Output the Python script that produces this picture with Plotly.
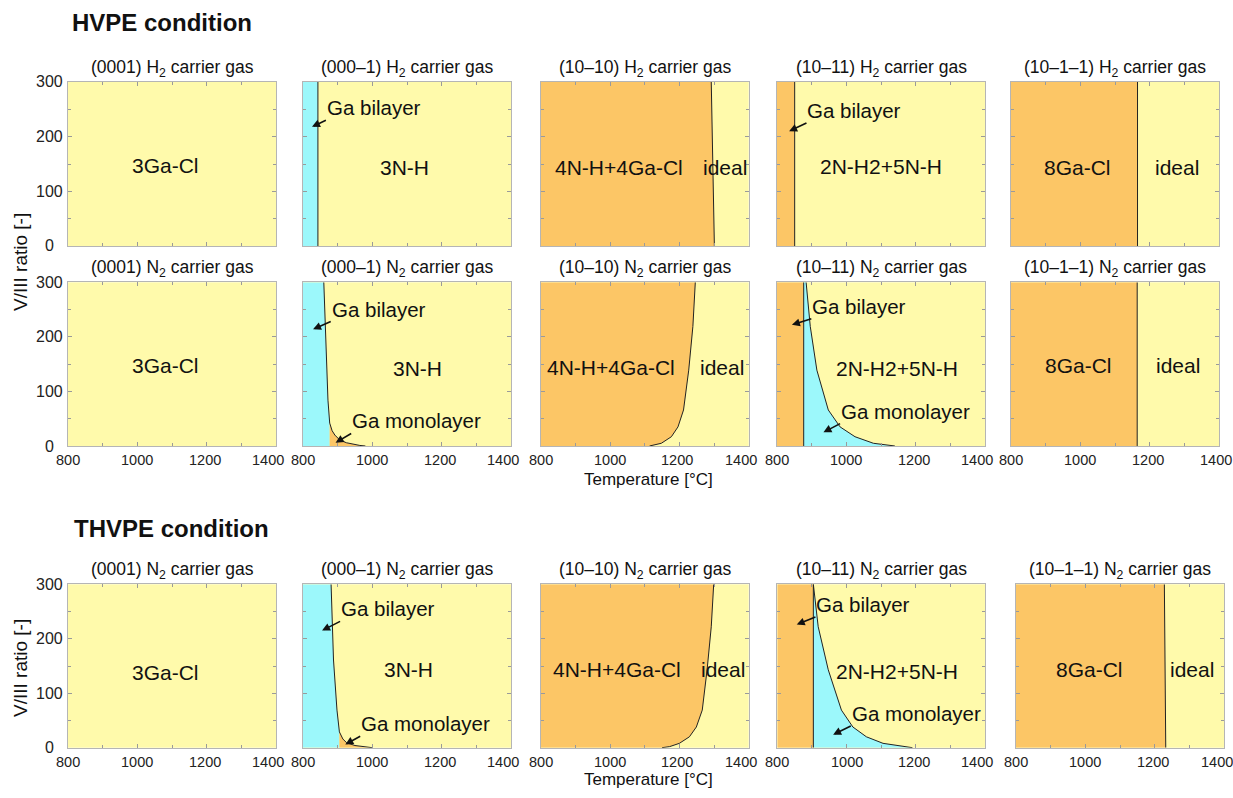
import plotly.graph_objects as go

W, H = 1233, 798

# ---------------- data ----------------
T_RANGE = [800, 1400]
V_RANGE = [0, 300]
x_tickvals = [800, 1000, 1200, 1400]
y_tickvals = [0, 100, 200, 300]

facets = ["(0001)", "(000–1)", "(10–10)", "(10–11)", "(10–1–1)"]
row_carriers = ["H", "N", "N"]
section_titles = ["HVPE condition", "THVPE condition"]

# Row 1 : HVPE, H2 carrier gas  (boundary curves, listed top (V=300) -> bottom (V=0))
r1_p2_T = [843, 843];   r1_p2_V = [300, 0]       # Ga bilayer | 3N-H
r1_p3_T = [1292, 1301]; r1_p3_V = [300, 0]       # 4N-H+4Ga-Cl | ideal
r1_p4_T = [851, 851];   r1_p4_V = [300, 0]       # Ga bilayer (orange) | 2N-H2+5N-H
r1_p5_T = [1165, 1165]; r1_p5_V = [300, 0]       # 8Ga-Cl | ideal

# Row 2 : HVPE, N2 carrier gas
r2_p2_T = [860, 864, 868, 872, 877, 884, 892, 906, 925, 945, 964, 980]
r2_p2_V = [300, 220, 158, 84, 42, 28, 20, 11, 6, 3, 1, 0]
r2_p2_mono_T = 877
r2_p3_T = [1246, 1239, 1227, 1212, 1196, 1177, 1148, 1130, 1114]
r2_p3_V = [300, 219, 139, 66, 35, 17, 5, 2, 0]
r2_p4_T = [884, 896, 915, 948, 982, 1025, 1078, 1110, 1140]
r2_p4_V = [300, 219, 139, 66, 35, 17, 5, 2, 0]
r2_p4_bilayer_T = 877
r2_p5_T = [1164, 1164]; r2_p5_V = [300, 0]

# Row 3 : THVPE, N2 carrier gas
r3_p2_T = [881, 884, 888, 898, 905, 915, 926, 950, 975, 1000]
r3_p2_V = [300, 222, 161, 69, 29, 16, 9, 4, 1.5, 0]
r3_p2_mono_T = 905
r3_p3_T = [1299, 1292, 1280, 1266, 1249, 1229, 1200, 1172, 1150]
r3_p3_V = [300, 222, 143, 69, 38, 20, 8, 2, 0]
r3_p4_T = [904, 918, 947, 985, 1018, 1057, 1105, 1162, 1190]
r3_p4_V = [300, 222, 143, 69, 38, 20, 8, 2, 0]
r3_p4_bilayer_T = 904
r3_p5_T = [1228, 1232]; r3_p5_V = [300, 0]

# ---------------- styles / layout ----------------
YELLOW = "#FFFAAB"
ORANGE = "#FCC666"
CYAN = "#9CF8FB"
LINE = "#222222"
TXT = "#111111"
FONT = "Arial, Liberation Sans, sans-serif"

row_px = [(82, 246), (282.3, 446), (584.3, 747.7)]
col_left_px = [[68, 303, 540.7, 777, 1011],
               [68, 303, 540.7, 777, 1011],
               [68, 303, 540.7, 777.3, 1016]]
PW = 208

panels = [
    # row 1
    dict(kind="plain"),
    dict(kind="left", color=CYAN, T=r1_p2_T, V=r1_p2_V),
    dict(kind="left", color=ORANGE, T=r1_p3_T, V=r1_p3_V),
    dict(kind="left", color=ORANGE, T=r1_p4_T, V=r1_p4_V),
    dict(kind="left", color=ORANGE, T=r1_p5_T, V=r1_p5_V),
    # row 2
    dict(kind="plain"),
    dict(kind="mono", T=r2_p2_T, V=r2_p2_V, Tm=r2_p2_mono_T),
    dict(kind="left", color=ORANGE, T=r2_p3_T, V=r2_p3_V),
    dict(kind="oc", T=r2_p4_T, V=r2_p4_V, Tv=r2_p4_bilayer_T),
    dict(kind="left", color=ORANGE, T=r2_p5_T, V=r2_p5_V),
    # row 3
    dict(kind="plain"),
    dict(kind="mono", T=r3_p2_T, V=r3_p2_V, Tm=r3_p2_mono_T),
    dict(kind="left", color=ORANGE, T=r3_p3_T, V=r3_p3_V),
    dict(kind="oc", T=r3_p4_T, V=r3_p4_V, Tv=r3_p4_bilayer_T),
    dict(kind="left", color=ORANGE, T=r3_p5_T, V=r3_p5_V),
]

# region labels (text, T, V)
labels = [
    [("3Ga-Cl", 1081, 148)],
    [("3N-H", 1092, 144)],
    [("4N-H+4Ga-Cl", 1027, 143), ("ideal", 1333, 143)],
    [("2N-H2+5N-H", 1099, 145)],
    [("8Ga-Cl", 991, 143), ("ideal", 1280, 143)],
    [("3Ga-Cl", 1081, 148)],
    [("3N-H", 1131, 142)],
    [("4N-H+4Ga-Cl", 1002, 143), ("ideal", 1324, 143)],
    [("2N-H2+5N-H", 1146, 142)],
    [("8Ga-Cl", 994, 148), ("ideal", 1281, 148)],
    [("3Ga-Cl", 1081, 138)],
    [("3N-H", 1105, 143)],
    [("4N-H+4Ga-Cl", 1021, 143), ("ideal", 1327, 143)],
    [("2N-H2+5N-H", 1144, 140)],
    [("8Ga-Cl", 1013, 143), ("ideal", 1308, 143)],
]
# callouts: text, arrow head (T, V), arrow tail = lower-left corner of the text (T, V)
callouts = {
    1: [("Ga bilayer", (826, 218), (866, 230))],
    3: [("Ga bilayer", (835, 210), (885, 225))],
    6: [("Ga bilayer", (829, 214), (880, 228)),
        ("Ga monolayer", (894, 6), (939, 23))],
    8: [("Ga bilayer", (843, 222), (899, 233)),
        ("Ga monolayer", (934, 25), (982, 41))],
    11: [("Ga bilayer", (855, 215), (907, 232)),
         ("Ga monolayer", (922, 6), (965, 21))],
    13: [("Ga bilayer", (856, 226), (910, 240)),
         ("Ga monolayer", (961, 24), (1012, 40))],
}
# small horizontal nudges (px) of the x tick labels, as in the reference
xlabel_shift = {800: 0, 1000: 0, 1200: -2, 1400: -8}
last_col_1400_shift = {1: -3, 2: -7}

fig = go.Figure()
annotations = []


def poly(xs, ys, color, xa, ya):
    fig.add_trace(go.Scatter(x=xs, y=ys, fill="toself", fillcolor=color, mode="lines",
                             line=dict(width=0, color=color), xaxis=xa, yaxis=ya,
                             hoverinfo="skip", showlegend=False))


def line(xs, ys, xa, ya):
    fig.add_trace(go.Scatter(x=xs, y=ys, mode="lines", line=dict(width=1, color=LINE),
                             xaxis=xa, yaxis=ya, hoverinfo="skip", showlegend=False))


for k, p in enumerate(panels):
    r, c = divmod(k, 5)
    n = k + 1
    xa = "x" if n == 1 else f"x{n}"
    ya = "y" if n == 1 else f"y{n}"
    xkey = "xaxis" if n == 1 else f"xaxis{n}"
    ykey = "yaxis" if n == 1 else f"yaxis{n}"
    x0 = col_left_px[r][c]
    top, bot = row_px[r]

    fig.update_layout({
        xkey: dict(domain=[x0 / W, (x0 + PW) / W], anchor=ya, range=T_RANGE,
                   tickvals=x_tickvals, showticklabels=False, automargin=False,
                   ticks="inside", ticklen=4, tickcolor="#9a9a9a",
                   minor=dict(dtick=100, tick0=800, ticks="inside", ticklen=3, tickcolor="#9a9a9a"),
                   showline=True, linecolor="#b5b5b5", linewidth=1, mirror="ticks",
                   showgrid=False, zeroline=False, fixedrange=True),
        ykey: dict(domain=[1 - bot / H, 1 - top / H], anchor=xa, range=V_RANGE,
                   tickvals=y_tickvals, showticklabels=False, automargin=False,
                   ticks="inside", ticklen=4, tickcolor="#9a9a9a",
                   minor=dict(dtick=50, tick0=0, ticks="inside", ticklen=3, tickcolor="#9a9a9a"),
                   showline=True, linecolor="#b5b5b5", linewidth=1, mirror="ticks",
                   showgrid=False, zeroline=False, fixedrange=True),
    })

    kind = p["kind"]
    if kind == "left":
        T, V = p["T"], p["V"]
        poly([T_RANGE[0]] + T + [T_RANGE[0]], [V_RANGE[1]] + V + [V_RANGE[0]], p["color"], xa, ya)
        line(T, V, xa, ya)
    elif kind == "mono":
        T, V, Tm = p["T"], p["V"], p["Tm"]
        cT = [t for t in T if t <= Tm]
        cV = [v for t, v in zip(T, V) if t <= Tm]
        poly([T_RANGE[0]] + cT + [Tm, T_RANGE[0]], [V_RANGE[1]] + cV + [0, 0], CYAN, xa, ya)
        oT = [t for t in T if t >= Tm]
        oV = [v for t, v in zip(T, V) if t >= Tm]
        poly(oT + [Tm], oV + [0], ORANGE, xa, ya)
        line(T, V, xa, ya)
    elif kind == "oc":
        T, V, Tv = p["T"], p["V"], p["Tv"]
        poly([T_RANGE[0], Tv, Tv, T_RANGE[0]], [300, 300, 0, 0], ORANGE, xa, ya)
        poly([Tv] + T + [Tv], [300] + V + [0], CYAN, xa, ya)
        line([Tv, Tv], [0, 300], xa, ya)
        line(T, V, xa, ya)

    # x tick labels (rows 2 and 3)
    if r > 0:
        for tv in x_tickvals:
            sh = xlabel_shift[tv] if (c < 4 or tv != 1400) else last_col_1400_shift[r]
            annotations.append(dict(text=str(tv), x=tv, xref=xa, yref="paper",
                                    y=1 - (bot + 14) / H, xanchor="center", yanchor="middle",
                                    xshift=sh, showarrow=False,
                                    font=dict(size=14.5, color="#222", family=FONT)))
    # y tick labels (first column, centred like the reference)
    if c == 0:
        for tv in y_tickvals:
            annotations.append(dict(text=str(tv), y=tv, yref=ya, xref="paper",
                                    x=(x0 - 19) / W, xanchor="center", yanchor="middle",
                                    showarrow=False,
                                    font=dict(size=16, color="#222", family=FONT)))

    # panel title
    annotations.append(dict(
        text=f"{facets[c]} {row_carriers[r]}<sub>2</sub> carrier gas",
        xref="paper", yref="paper", x=(x0 + PW / 2) / W, y=1 - (top - 14) / H,
        xanchor="center", yanchor="middle", showarrow=False,
        font=dict(size=17.5, color=TXT, family=FONT)))

    for (txt, tx, ty) in labels[k]:
        annotations.append(dict(text=txt, x=tx, y=ty, xref=xa, yref=ya, showarrow=False,
                                xanchor="center", yanchor="middle",
                                font=dict(size=21, color=TXT, family=FONT)))
    for (txt, (hx, hy), (qx, qy)) in callouts.get(k, []):
        annotations.append(dict(text=txt, x=hx, y=hy, xref=xa, yref=ya, showarrow=True,
                                ax=qx, ay=qy, axref=xa, ayref=ya,
                                xanchor="left", yanchor="bottom", borderpad=0,
                                arrowhead=2, arrowsize=1, arrowwidth=1.6,
                                arrowcolor=TXT, standoff=0,
                                font=dict(size=20.5, color=TXT, family=FONT)))

# section headers
annotations.append(dict(text=f"<b>{section_titles[0]}</b>", xref="paper", yref="paper",
                        x=70 / W, y=1 - 22 / H, xanchor="left", yanchor="middle", showarrow=False,
                        font=dict(size=24, color=TXT, family=FONT)))
annotations.append(dict(text=f"<b>{section_titles[1]}</b>", xref="paper", yref="paper",
                        x=72 / W, y=1 - 528 / H, xanchor="left", yanchor="middle", showarrow=False,
                        font=dict(size=24, color=TXT, family=FONT)))

# axis titles
for yc in (262, 668):
    annotations.append(dict(text="V/III ratio [-]", xref="paper", yref="paper",
                            x=20 / W, y=1 - yc / H, xanchor="center", yanchor="middle",
                            textangle=-90, showarrow=False,
                            font=dict(size=19, color=TXT, family=FONT)))
for yc in (479, 779):
    annotations.append(dict(text="Temperature [°C]", xref="paper", yref="paper",
                            x=648 / W, y=1 - yc / H, xanchor="center", yanchor="middle",
                            showarrow=False, font=dict(size=17, color=TXT, family=FONT)))

fig.update_layout(width=W, height=H, autosize=False,
                  margin=dict(l=0, r=0, t=0, b=0),
                  paper_bgcolor="white", plot_bgcolor=YELLOW,
                  showlegend=False, annotations=annotations,
                  font=dict(family=FONT))

fig.write_html("out.html", config={"displayModeBar": False},
               post_script="document.body.style.margin='0';")
